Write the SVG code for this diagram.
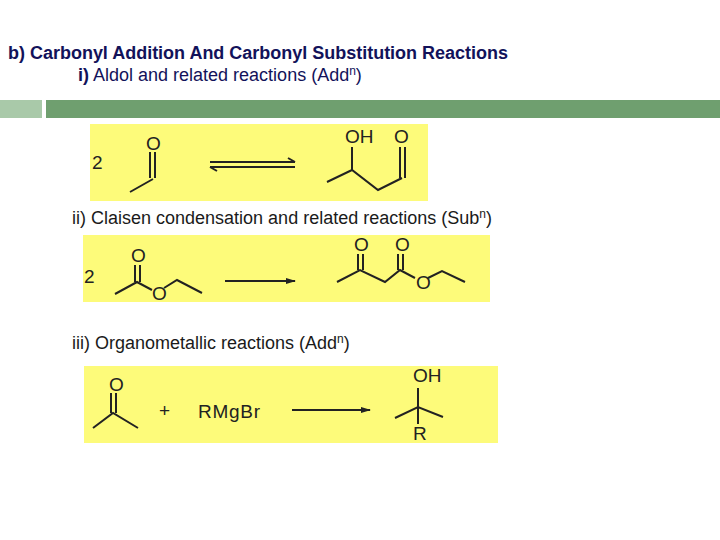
<svg xmlns="http://www.w3.org/2000/svg" width="720" height="540" viewBox="0 0 720 540">
<defs>
<style>
.t{font-family:"Liberation Sans",Arial,sans-serif;font-size:18px;fill:#1a1a1a}
.b{font-weight:bold;fill:#12125a}
.box{fill:#fdfb7a}
.bd{stroke:#222;stroke-width:2;fill:none}
.a{font-family:"Liberation Sans",Arial,sans-serif;font-size:19px;fill:#222}
</style>
<marker id="ah" markerWidth="10" markerHeight="8" refX="9" refY="4" orient="auto" markerUnits="userSpaceOnUse"><path d="M0,1 L10,4 L0,7z" fill="#222"/></marker>
</defs>
<rect width="720" height="540" fill="#fff"/>
<rect x="0" y="100" width="42" height="18" fill="#a9c9a9"/>
<rect x="46" y="100" width="674" height="18" fill="#6f9f6f"/>
<text class="t b" x="8" y="59" font-size="17.5" textLength="500">b) Carbonyl Addition And Carbonyl Substitution Reactions</text>
<text class="t" x="78" y="81"><tspan class="b">i)</tspan><tspan fill="#12125a">  Aldol and related reactions (Add</tspan><tspan font-size="12" dy="-6" fill="#12125a">n</tspan><tspan dy="6" fill="#12125a">)</tspan></text>
<text class="t" x="72" y="224">ii)  Claisen condensation and related reactions (Sub<tspan font-size="12" dy="-6">n</tspan><tspan dy="6">)</tspan></text>
<text class="t" x="72" y="349">iii)  Organometallic reactions (Add<tspan font-size="12" dy="-6">n</tspan><tspan dy="6">)</tspan></text>
<g id="r1">
<rect class="box" x="90" y="124" width="338" height="77"/>
<text class="a" x="92" y="169">2</text>
<text class="a" x="146" y="150">O</text>
<path class="bd" d="M150,152V178M155,152V178M153,179L130,192"/>
<path class="bd" d="M210,162H295M288,158L295,162M210,167H295M210,167L217,171"/>
<text class="a" x="345" y="143">OH</text>
<text class="a" x="394" y="143">O</text>
<path class="bd" d="M327,182L352,170L378,190L402,178M352,170V147M400,178V147M405,178V147"/>
</g>
<g id="r2">
<rect class="box" x="83" y="235" width="407" height="67"/>
<text class="a" x="84" y="283">2</text>
<text class="a" x="131" y="262">O</text>
<text class="a" x="152" y="300">O</text>
<path class="bd" d="M115,294L137,282L152,290M164,288L177,280L202,293M135,282V265M140,282V265"/>
<path class="bd" d="M225,281H295" marker-end="url(#ah)"/>
<text class="a" x="354" y="251">O</text>
<text class="a" x="395" y="251">O</text>
<text class="a" x="416" y="289">O</text>
<path class="bd" d="M337,282L360,270L385,282L400,270L415,278M428,278L442,271L465,282M358,270V254M363,270V254M398,270V254M403,270V254"/>
</g>
<g id="r3">
<rect class="box" x="84" y="366" width="414" height="77"/>
<text class="a" x="109" y="391">O</text>
<path class="bd" d="M111,393V413M116,393V413M93,428L113,413L138,428"/>
<text class="a" x="159" y="417">+</text>
<text class="a" x="198" y="418" textLength="62">RMgBr</text>
<path class="bd" d="M292,410H370" marker-end="url(#ah)"/>
<text class="a" x="413" y="382">OH</text>
<text class="a" x="413" y="440">R</text>
<path class="bd" d="M418,388V424M395,418L418,407L443,417"/>
</g>
</svg>
